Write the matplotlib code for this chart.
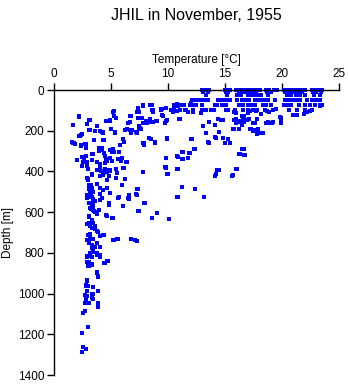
import numpy as np
import matplotlib.pyplot as plt

plt.rcParams['font.family'] = ['Liberation Sans', 'DejaVu Sans']

# dense near-surface band, one list of temperatures per standard depth
band_depths = [0, 10, 25, 50, 75, 100]
band_temps = [
    [13.0, 13.2, 13.4, 13.6, 15.0, 15.2, 15.4, 16.0, 16.3, 16.6, 16.9, 17.2, 17.5, 17.8, 18.1,
     18.6, 18.9, 19.3, 19.6, 20.2, 20.5, 20.8, 21.1, 21.4, 21.7, 22.0, 22.6, 22.9, 23.2, 23.5],
    [13.1, 13.5, 15.1, 15.3, 16.2, 16.5, 16.8, 17.1, 17.4, 17.7, 18.7, 19.0, 20.3, 20.6, 20.9,
     21.2, 21.5, 21.8, 22.7, 23.0, 23.4],
    [13.3, 15.2, 16.1, 16.4, 17.0, 17.3, 17.6, 17.9, 18.2, 18.8, 20.4, 20.8, 21.2, 21.6, 22.0,
     22.8, 23.3],
    [12.1, 12.4, 12.6, 12.95, 13.25, 13.55, 14.4, 14.65, 14.85, 15.15, 15.4, 16.1, 16.5, 16.8,
     17.1, 17.6, 17.9, 18.2, 18.5, 18.8, 19.4, 20.3, 20.6, 21.0, 21.3, 21.6, 22.2, 22.6, 23.0, 23.3],
    [7.8, 8.4, 10.5, 10.6, 10.8, 11.1, 11.4, 11.9, 12.1, 12.3, 12.5, 13.0, 14.1, 14.3, 14.7, 14.9,
     15.1, 16.2, 16.6, 17.0, 17.3, 17.6, 18.3, 18.6, 19.0, 20.2, 20.5, 20.8, 21.5, 22.0, 22.5,
     22.9, 23.3],
    [8.6, 8.7, 9.4, 10.3, 10.5, 11.05, 11.5, 11.6, 12.2, 12.95, 13.3, 13.8, 14.0, 15.1, 15.3, 15.9,
     16.6, 17.0, 17.5, 17.8, 18.5, 19.2, 20.6, 21.3, 22.0, 22.6],
]

# scattered casts below / beside the band
temp = [
    1.64, 2.22, 3.1, 2.92, 3.1, 3.74, 3.63, 4.18, 4.33, 4.56, 4.91, 5.15, 5.29, 5.2, 5.35,
    2.28, 2.43, 1.61, 1.75, 2.34, 2.81, 2.78, 3.5, 4.33, 3.98, 3.92, 4.18, 4.56, 4.68, 3.45,
    2.81, 2.43, 2.05, 2.51, 2.92, 3.0, 3.74, 4.04, 4.47, 4.68, 4.91, 3.3, 2.87, 3.0, 4.04,
    4.68, 4.85, 4.33, 5.15, 5.29, 5.58, 5.85, 5.38, 5.44, 6.23, 5.44, 6.14, 3.27, 3.74, 3.1,
    4.04, 4.33, 4.68, 4.91, 3.22, 4.04, 4.18, 3.0, 3.39, 4.04, 4.85, 3.22, 3.5, 3.98, 3.74,
    3.1, 4.56, 5.15, 5.64, 6.46, 6.05, 7.31, 7.19, 6.61, 7.89, 7.4, 7.84, 8.57, 9.06, 10.1,
    3.1, 3.6, 3.8, 3.16, 4.04, 3.45, 3.74, 4.33, 3.1, 3.3, 3.45, 3.8, 4.04, 3.0, 3.1,
    4.68, 4.41, 5.2, 5.56, 6.73, 7.1, 3.74, 3.89, 3.3,
    7.84, 8.57, 7.37, 7.31, 8.13, 8.42, 8.65, 8.95, 9.44, 9.74, 9.88, 9.82, 10.5, 10.6, 10.8,
    10.9, 6.52, 6.73, 7.54, 7.48, 7.25, 6.73, 6.37, 6.81, 7.48, 6.23, 7.84, 8.36, 8.86, 9.8,
    10.8, 9.82, 10.8, 9.94, 10.9, 10.3, 11.05, 5.79, 4.97, 6.14,
    9.42, 9.5, 9.8, 9.9, 10.4, 10.8, 10.96, 11.46, 11.75, 12.2, 12.9, 12.05, 12.34, 12.05, 13.5,
    13.36, 13.07, 13.6, 14.12, 14.47, 14.12, 14.82, 15.0, 11.26, 11.84, 10.8, 11.26, 11.75, 9.74,
    9.9, 10.8, 11.26, 12.37, 10.8, 13.13, 10.1, 14.3, 14.1, 15.6, 16.0, 16.46, 16.23, 16.67,
    15.03, 14.4, 14.65, 15.8, 15.86, 15.7, 16.0, 16.2, 16.46, 16.5, 16.9, 17.16, 17.45, 17.8,
    17.8, 18.2, 17.45, 17.8, 17.0, 17.2, 17.7, 18.2, 18.57, 18.9, 19.15, 18.7, 18.9, 19.5,
    19.8, 19.94, 20.97, 21.96, 22.16, 22.5, 23.3, 23.5,
    2.94, 3.03, 3.1, 3.3, 4.4, 4.7, 3.76, 3.9, 2.94, 2.82, 3.03, 3.47, 3.9, 2.88, 3.4,
    2.94, 2.73, 3.1, 2.82, 3.3, 3.47, 3.85, 3.9, 2.8, 2.73, 2.53, 3.03, 2.44, 2.53, 2.82, 2.44,
    3.47, 3.18, 3.33, 3.77, 4.0, 2.88, 4.5, 4.7, 3.0, 3.3, 3.77, 3.9, 2.88, 2.82, 3.03, 3.47,
    2.88, 2.73, 3.3,
    2.88, 3.03, 3.1, 3.3, 3.2, 3.4, 3.33, 3.47, 3.6, 2.88, 2.94, 3.1, 3.3, 3.47, 3.2, 3.4, 3.6,
    3.77, 3.1, 3.3, 3.47, 2.94, 3.18, 3.33, 3.6, 3.9, 3.03, 3.18, 3.4, 2.88, 3.1, 3.33, 3.6,
    3.47, 3.2, 2.94, 3.33, 3.77,
    5.24, 5.6, 6.8, 7.3, 6.0, 7.4, 6.6, 7.3, 8.0, 7.45, 5.7, 4.8, 5.1, 4.65, 4.35, 4.06, 4.06,
    5.5, 6.2, 7.8,
    1.65, 2.24, 3.12, 2.94, 3.18, 3.8, 4.06, 4.3, 2.24, 2.36, 1.7, 1.85, 2.36, 2.74, 2.83, 3.53,
    4.4, 5.18, 5.24, 4.6, 4.94, 5.4, 5.32, 6.1, 6.7, 6.65, 6.7, 7.35, 7.44, 7.35, 7.7, 6.85,
    7.2, 7.6, 8.1, 8.4, 8.5, 7.9, 3.3, 4.0, 4.2, 4.94, 5.1, 5.7, 4.35, 4.5, 2.83, 2.6, 2.94,
    3.3, 3.77, 4.0, 4.5, 4.9, 5.1, 6.0, 6.3, 6.1, 2.06, 2.44, 3.03, 3.33, 3.8, 4.1, 4.35,
    4.65, 4.94, 6.4, 5.53, 7.8,
    8.7, 8.7, 9.5, 9.6, 9.88, 11.06, 7.8, 8.2, 8.4, 9.0, 7.6, 8.47, 9.88, 7.88, 8.9, 12.1,
    13.6, 14.2, 15.3, 15.4, 14.8, 15.8, 16.2, 15.8, 16.2, 12.3, 11.3, 11.9, 10.9, 11.3, 11.8,
    9.8, 10.9, 10.0, 14.5, 14.2, 15.7, 16.3, 16.1,
    15.9, 16.0, 16.65, 16.6, 16.0, 16.3, 16.65, 15.8, 17.15, 17.6, 17.3, 17.65, 17.9, 18.3,
    18.8, 19.2, 19.9, 19.95, 21.3, 17.9, 16.65, 16.35, 16.8, 16.05,
]
depth = [
    171, 127, 148, 166, 196, 179, 202, 207, 212, 153, 150, 106, 130, 108, 209,
    228, 217, 256, 261, 269, 264, 285, 248, 248, 285, 302, 297, 339, 349, 315,
    323, 329, 342, 355, 372, 388, 391, 383, 388, 394, 394, 411, 434, 437, 424,
    440, 420, 416, 290, 306, 339, 350, 212, 432, 437, 388, 383, 469, 464, 484,
    481, 489, 481, 505, 509, 513, 530, 525, 554, 541, 567, 583, 595, 587, 611,
    619, 616, 628, 530, 530, 570, 486, 513, 516, 554, 592, 404, 628, 603, 632,
    652, 668, 693, 709, 717, 730, 750, 711, 750, 774, 790, 802, 812, 815, 844,
    839, 848, 737, 730, 730, 737, 893, 913, 854,
    78, 73, 90, 106, 160, 155, 155, 150, 122, 160, 147, 90, 81, 78, 68,
    81, 160, 127, 187, 192, 209, 212, 192, 196, 179, 196, 261, 236, 256, 334,
    323, 378, 388, 411, 525, 98, 143, 269, 192, 257,
    95, 124, 150, 236, 106, 103, 143, 98, 106, 109, 111, 241, 289, 65, 253,
    209, 179, 156, 173, 207, 233, 238, 261, 305, 310, 326, 339, 334, 378,
    412, 388, 476, 486, 525, 526, 632, 391, 424, 424, 388, 290, 316, 320,
    259, 143, 147, 106, 148, 192, 160, 157, 173, 127, 147, 192, 199, 199,
    215, 212, 163, 143, 114, 101, 103, 119, 160, 163, 160, 103, 106, 95,
    134, 160, 125, 119, 106, 103, 81, 73,
    843, 859, 864, 859, 848, 840, 900, 920, 936, 957, 962, 969, 986, 986, 1002,
    1011, 1044, 1044, 1028, 1023, 1026, 1044, 1067, 1047, 1084, 1094, 1165, 1195, 1264, 1271, 1287,
    794, 810, 818, 810, 818, 822, 851, 840, 864, 859, 900, 920, 933, 961, 962, 969,
    986, 1007, 1002,
    433, 442, 466, 483, 494, 499, 524, 537, 543, 516, 532, 553, 561, 573, 581, 589, 597,
    609, 625, 638, 651, 658, 668, 679, 684, 696, 712, 728, 733, 737, 745, 761, 773,
    786, 799, 815, 822, 810,
    737, 732, 734, 742, 466, 488, 537, 516, 557, 593, 527, 557, 630, 619, 712, 769, 818,
    406, 438, 403,
    173, 131, 147, 168, 196, 177, 201, 206, 226, 222, 262, 264, 275, 267, 287, 245,
    245, 108, 103, 152, 147, 136, 206, 242, 128, 157, 196, 95, 108, 139, 136, 196,
    206, 190, 152, 144, 239, 272, 316, 291, 283, 294, 304, 304, 308, 324, 324, 344, 354,
    344, 354, 365, 357, 332, 348, 332, 354, 381, 344, 373, 386, 419, 393, 398, 410,
    403, 398, 354, 410, 403,
    98, 108, 95, 128, 147, 141, 160, 157, 147, 152, 190, 239, 239, 262, 258, 242,
    258, 234, 239, 262, 147, 147, 152, 190, 190, 288, 304, 311, 327, 337, 332,
    381, 389, 414, 393, 414, 419, 316, 389,
    103, 111, 128, 136, 144, 157, 157, 190, 144, 160, 190, 196, 193, 213,
    157, 157, 136, 157, 124, 209, 288, 316, 321, 386,
]

for d, ts in zip(band_depths, band_temps):
    temp = temp + ts
    depth = depth + [d] * len(ts)

fig = plt.figure(figsize=(3.48, 3.84), dpi=100)
ax = fig.add_axes([0.155, 0.0234, 0.819, 0.7422])

ax.plot(temp, depth, linestyle='none', marker='s', ms=2.4, mew=0, color='#0000ff', clip_on=False)

ax.set_xlim(0, 25)
ax.set_ylim(1400, 0)
ax.set_xticks([0, 5, 10, 15, 20, 25])
ax.set_yticks(np.arange(0, 1401, 200))
ax.xaxis.tick_top()
ax.xaxis.set_label_position('top')
ax.spines['right'].set_visible(False)
ax.spines['bottom'].set_visible(False)
for s in ['top', 'left']:
    ax.spines[s].set_linewidth(1.0)
ax.tick_params(direction='out', length=5, width=1, labelsize=8.5, pad=2)
ax.set_xlabel('Temperature [°C]', fontsize=8.5, labelpad=4)
ax.set_ylabel('Depth [m]', fontsize=8.5, labelpad=3)

fig.text(0.565, 0.978, 'JHIL in November, 1955', ha='center', va='top', fontsize=11.5)

fig.savefig('out.png', dpi=100)
